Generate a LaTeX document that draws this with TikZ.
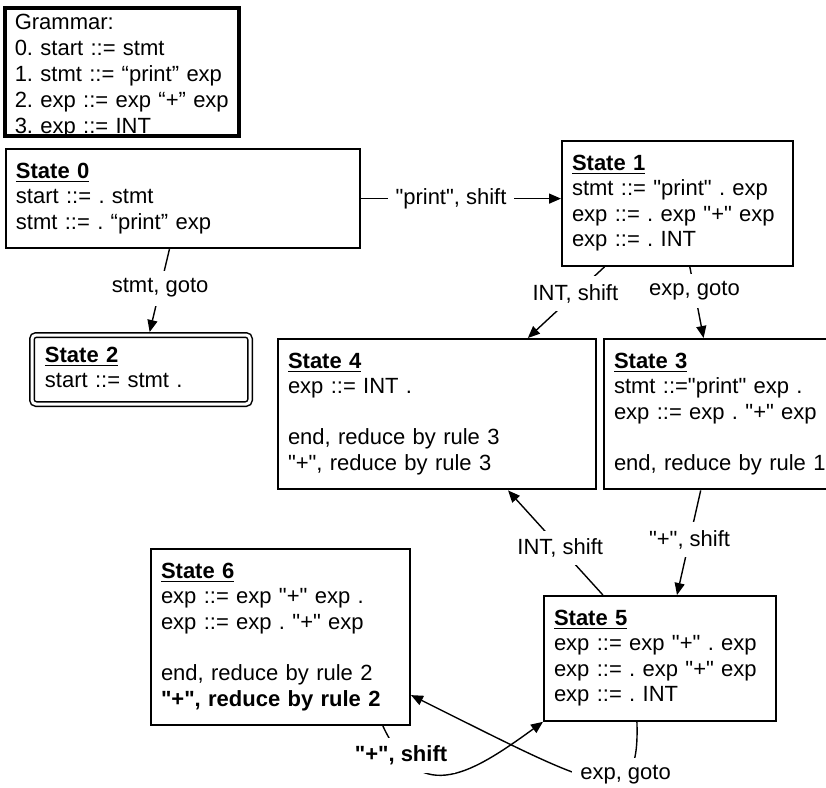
\documentclass[tikz,border=0pt]{standalone}
\usepackage{fontspec}
\setmainfont{Liberation Sans}[Ligatures=TeXOff]
\usetikzlibrary{arrows.meta}
\frenchspacing

\tikzset{
  statebox/.style={draw, line width=1pt, anchor=north west, align=left,
    inner xsep=5pt, inner ysep=0pt, text height=14.5pt,
    font=\fontsize{11pt}{12.8pt}\selectfont},
  acceptbox/.style={statebox, double, double distance=1.5pt, line width=0.75pt,
    rounded corners=2pt, outer sep=1.5pt, inner xsep=6.5pt},
  trans/.style={line width=0.7pt, -{Triangle[length=6pt,width=5pt]}},
  lbl/.style={fill=white, inner sep=4pt, font=\fontsize{11pt}{12.8pt}\selectfont},
}
\newcommand{\stitle}[1]{\underline{\textbf{#1}}}

\begin{document}
\begin{tikzpicture}[x=0.5pt,y=-0.5pt]
        \useasboundingbox (0,0) rectangle (826,788);
        \clip (0,0) rectangle (826,788);
        %% Grammar
        \node[statebox, line width=1.75pt, text width=107pt, text height=11pt,
            text depth=53pt, font=\fontsize{11pt}{13pt}\selectfont] (gram) at (3,6)
            {Grammar:\\ 0. start ::= stmt\\ 1. stmt ::= “print” exp\\
             2. exp ::= exp “+” exp\\ 3. exp ::= INT};
        %% States
        \node[statebox, text width=167pt, text depth=35.1pt] (s0) at (5,148)
            {\stitle{State 0}\\ start ::= . stmt\\ stmt ::= . “print” exp};
        \node[statebox, text width=105.5pt, text depth=47.9pt] (s1) at (561,140)
            {\stitle{State 1}\\ stmt ::= "print" . exp\\ exp ::= . exp "+" exp\\ exp ::= . INT};
        \node[acceptbox, text width=96pt, text height=13.5pt, text depth=21pt] (s2) at (29,332)
            {\stitle{State 2}\\ start ::= stmt .};
        \node[statebox, text width=149pt, text depth=60.7pt] (s4) at (277,338)
            {\stitle{State 4}\\ exp ::= INT .\\ \mbox{}\\ end, reduce by rule 3\\ "+", reduce by rule 3};
        \node[statebox, text width=110pt, text depth=60.7pt] (s3) at (603,338)
            {\stitle{State 3}\\ stmt ::="print" exp .\\ exp ::= exp . "+" exp\\ \mbox{}\\ end, reduce by rule 1};
        \node[statebox, text width=106pt, text depth=47.9pt] (s5) at (543,595)
            {\stitle{State 5}\\ exp ::= exp "+" . exp\\ exp ::= . exp "+" exp\\ exp ::= . INT};
        \node[statebox, text width=119.5pt, text depth=73.5pt] (s6) at (150,548)
            {\stitle{State 6}\\ exp ::= exp "+" exp .\\ exp ::= exp . "+" exp\\ \mbox{}\\
             end, reduce by rule 2\\ \textbf{"+", reduce by rule 2}};
        %% Transitions
        \draw[trans] (s0.east) -- (s0.east -| s1.west)
            node[lbl, pos=0.45] {"print", shift};
        \draw[trans] (s0.-105.5) -- (s2.77.2)
            node[lbl, pos=0.47] {stmt, goto};
        \draw[trans] (s1.-139.6) -- (s4.40.8)
            node[lbl, pos=0.38] {INT, shift};
        \draw[trans] (s1.-79.6) -- (s3.105)
            node[lbl, pos=0.34] {exp, goto};
        \draw[trans] (s3.-107.2) -- (s5.75.9)
            node[lbl, pos=0.47] {"+", shift};
        \draw[trans] (s5.132.9) -- (s4.-47.4)
            node[lbl, pos=0.45] {INT, shift};
        \draw[trans] (s5.-110.7) .. controls +(3,93) and +(191,95) .. (s6.-24.7)
            node[lbl, pos=0.3] {exp, goto};
        \draw[trans] (s6.-41.3) .. controls +(36,77) and +(-78,57) .. (s5.south west)
            node[lbl, pos=0.16, font=\fontsize{11pt}{12.8pt}\selectfont\bfseries] {"+", shift};
    \end{tikzpicture}
\end{document}
